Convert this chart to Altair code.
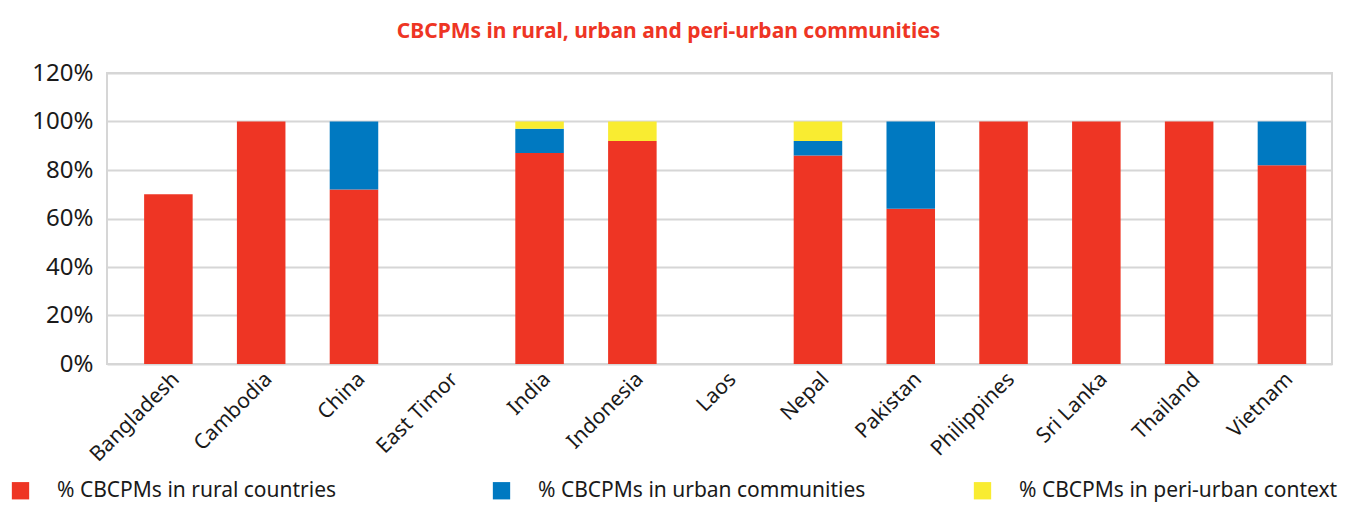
import altair as alt
import pandas as pd

countries = ["Bangladesh", "Cambodia", "China", "East Timor", "India", "Indonesia",
             "Laos", "Nepal", "Pakistan", "Philippines", "Sri Lanka", "Thailand", "Vietnam"]
rural = [0.70, 1.00, 0.72, 0.0, 0.87, 0.92, 0.0, 0.86, 0.64, 1.00, 1.00, 1.00, 0.82]
urban = [0.0, 0.0, 0.28, 0.0, 0.10, 0.0, 0.0, 0.06, 0.36, 0.0, 0.0, 0.0, 0.18]
periurban = [0.0, 0.0, 0.0, 0.0, 0.03, 0.08, 0.0, 0.08, 0.0, 0.0, 0.0, 0.0, 0.0]
series = ["% CBCPMs in rural countries", "% CBCPMs in urban communities",
          "% CBCPMs in  peri-urban context"]
colors = ["#EE3524", "#0079C1", "#F9EC31"]
title = "CBCPMs in rural, urban and peri-urban communities"

rows = []
for i, c in enumerate(countries):
    for k, vals in enumerate([rural, urban, periurban]):
        rows.append({"country": c, "series": series[k], "order": k, "value": vals[i]})
df = pd.DataFrame(rows)

FONT = "Noto Sans"

chart = alt.Chart(df).mark_bar().encode(
    x=alt.X("country:N", sort=countries, title=None,
            scale=alt.Scale(paddingInner=0.477, paddingOuter=0.339, align=0.59),
            axis=alt.Axis(labelAngle=-45, labelFontSize=21, labelFont=FONT,
                          labelColor="#1a1a1a", ticks=False, domain=False,
                          labelPadding=4, labelAlign="right", labelBaseline="top")),
    y=alt.Y("value:Q", stack="zero", title=None,
            scale=alt.Scale(domain=[0, 1.2], nice=False),
            axis=alt.Axis(values=[0, 0.2, 0.4, 0.6, 0.8, 1.0, 1.2], format=".0%",
                          labelFontSize=24, labelFont=FONT, labelColor="#1a1a1a",
                          ticks=False, domain=False, labelPadding=14,
                          gridColor="#D6D6D6", gridWidth=2)),
    color=alt.Color("series:N", sort=series,
                    scale=alt.Scale(domain=series, range=colors),
                    legend=alt.Legend(title=None, orient="none", legendX=-97, legendY=407,
                                      direction="horizontal", columns=3, gridAlign="all",
                                      columnPadding=106, symbolType="square",
                                      symbolSize=300, symbolStrokeWidth=0,
                                      labelFontSize=21, labelFont=FONT,
                                      labelColor="#1a1a1a", labelOffset=26,
                                      labelLimit=600)),
    order=alt.Order("order:Q"),
).properties(
    width=1225, height=291,
    title=alt.TitleParams(title, font=FONT, fontSize=21, fontWeight="bold",
                          color="#EE3524", anchor="middle", frame="bounds",
                          offset=19, dx=-8),
    padding={"left": 99, "top": 65, "right": 9, "bottom": 142},
    autosize=alt.AutoSizeParams(type="none"),
).configure_view(stroke="#D6D6D6", strokeWidth=2)

chart.save("out.html", embed_options={"renderer": "svg", "actions": False})
